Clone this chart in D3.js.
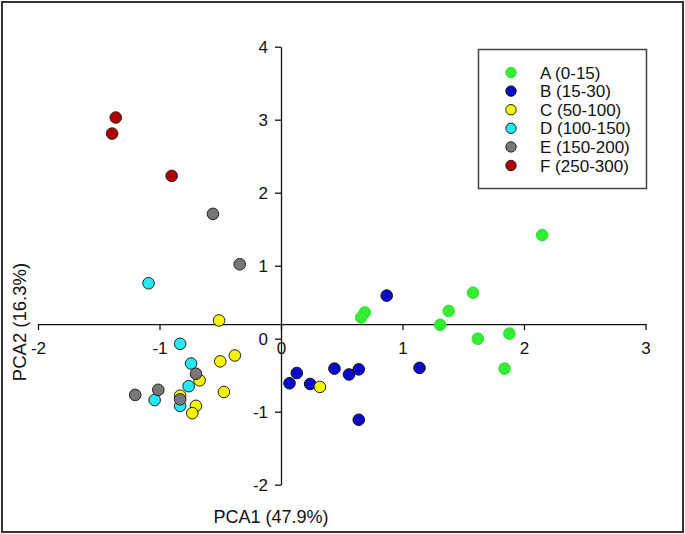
<!DOCTYPE html>
<html><head><meta charset="utf-8">
<script src="https://cdn.jsdelivr.net/npm/d3@7"></script>
<style>
html,body{margin:0;padding:0;background:#fff;}
svg{display:block;font-family:"Liberation Sans",Arial,sans-serif;}
</style></head>
<body><svg id="c" width="685" height="534"></svg>
<script>
// ---- data ----
const groups = ["A (0-15)","B (15-30)","C (50-100)","D (100-150)","E (150-200)","F (250-300)"];
const colors = ["#33ee33","#0a0acd","#f5f500","#22eaf0","#777777","#b00000"];
const strokes = ["#30dd30","#111111","#222222","#222222","#222222","#222222"];
const groupA = [[2.15,1.42],[1.58,0.63],[1.38,0.38],[1.31,0.19],[1.62,0.0],[1.88,0.07],[1.84,-0.41],[0.69,0.36],[0.66,0.29]];
const groupB = [[0.87,0.59],[1.14,-0.40],[0.07,-0.61],[0.13,-0.47],[0.24,-0.62],[0.44,-0.41],[0.56,-0.49],[0.64,-0.42],[0.64,-1.11]];
const groupC = [[0.32,-0.66],[-0.51,0.25],[-0.50,-0.31],[-0.38,-0.23],[-0.67,-0.57],[-0.47,-0.73],[-0.70,-0.92],[-0.73,-1.02],[-0.83,-0.78]];
const groupD = [[-1.09,0.76],[-0.83,-0.07],[-0.74,-0.34],[-0.76,-0.65],[-1.04,-0.84],[-0.83,-0.92]];
const groupE = [[-0.56,1.71],[-0.34,1.02],[-0.70,-0.48],[-1.01,-0.70],[-1.20,-0.77],[-0.83,-0.83]];
const groupF = [[-1.36,3.03],[-1.39,2.81],[-0.90,2.23]];
const seriesData = [groupA,groupB,groupC,groupD,groupE,groupF];
const xTicks = [-2,-1,0,1,2,3];
const yTicks = [-2,-1,0,1,2,3,4];
const xTitle = "PCA1 (47.9%)";
const yTitle = "PCA2 (16.3%)";

// ---- layout ----
const svg = d3.select("#c");
const x = d3.scaleLinear().domain([-2,3]).range([38,645.5]);
const y = d3.scaleLinear().domain([-2,4]).range([484.7,46.7]);

// outer frame
svg.append("rect").attr("x",2).attr("y",2).attr("width",681).attr("height",530)
  .attr("fill","none").attr("stroke","#333").attr("stroke-width",2);

// x axis (crossing at y=0.2)
const gx = svg.append("g").attr("transform",`translate(0,${y(0.2)})`)
  .call(d3.axisBottom(x).tickValues(xTicks).tickSize(6).tickSizeOuter(0).tickPadding(12).tickFormat(d3.format("d")));
// y axis at x=0
const gy = svg.append("g").attr("transform",`translate(${x(0)},0)`)
  .call(d3.axisLeft(y).tickValues(yTicks).tickSize(6).tickSizeOuter(0).tickPadding(7).tickFormat(d3.format("d")));
[gx,gy].forEach(g=>{
  g.selectAll("path,line").attr("stroke","#111").attr("stroke-width",1.3);
  g.selectAll("text").attr("font-size",17).attr("fill","#111").attr("font-family","Liberation Sans, Arial, sans-serif");
});
gx.selectAll("text").text(d=>d<0?"-"+Math.abs(d):d);
gy.selectAll("text").text(d=>d<0?"-"+Math.abs(d):d);

// axis titles
svg.append("text").attr("x",271).attr("y",523).attr("text-anchor","middle")
  .attr("font-size",18).attr("fill","#111").text(xTitle);
svg.append("text").attr("transform","translate(26,322) rotate(-90)").attr("text-anchor","middle")
  .attr("font-size",18.5).attr("fill","#111").text(yTitle);

// points
seriesData.forEach((pts,i)=>{
  svg.append("g").selectAll("circle").data(pts).join("circle")
    .attr("cx",d=>x(d[0])).attr("cy",d=>y(d[1])).attr("r",5.8)
    .attr("fill",colors[i]).attr("stroke",strokes[i]).attr("stroke-width",1);
});

// legend
const lg = svg.append("g");
lg.append("rect").attr("x",478.5).attr("y",49.5).attr("width",168).attr("height",139)
  .attr("fill","#fff").attr("stroke","#444").attr("stroke-width",1.5);
const ly = d3.scalePoint().domain(groups).range([72.5,165.5]);
groups.forEach((g,i)=>{
  lg.append("circle").attr("cx",511).attr("cy",ly(g)).attr("r",5.2)
    .attr("fill",colors[i]).attr("stroke",strokes[i]).attr("stroke-width",1);
  lg.append("text").attr("x",540).attr("y",ly(g)).attr("dy","0.36em")
    .attr("font-size",17).attr("fill","#111").text(g);
});
</script></body></html>
